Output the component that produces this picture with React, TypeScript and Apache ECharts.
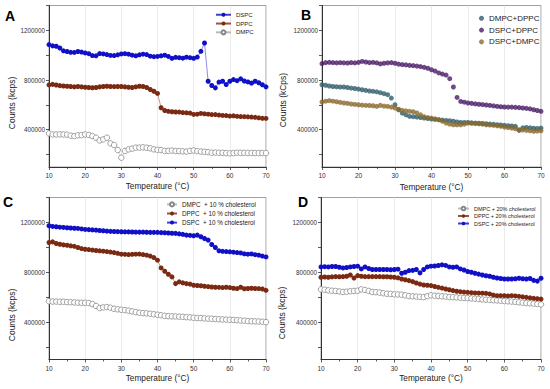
import React, { useEffect, useRef } from "react";
import * as echarts from "echarts";

const TEMPS = [10,11,12,13,14,15,16,17,18,19,20,21,22,23,24,25,26,27,28,29,30,31,32,33,34,35,36,37,38,39,40,41,42,43,44,45,46,47,48,49,50,51,52,53,54,55,56,57,58,59,60,61,62,63,64,65,66,67,68,69,70];
const X_TICKS = [10, 20, 30, 40, 50, 60, 70];
const Y_LABELS = [400000, 800000, 1200000];

// values in kcps (thousands)
const A_DSPC = [1085,1075,1072,1058,1035,1030,1023,1022,1030,1025,1018,1012,997,995,1013,1010,1005,998,997,1003,1010,1012,1008,1000,995,1003,1008,1005,992,988,990,995,1000,990,975,983,980,976,984,980,975,985,1031,1098,790,756,737,783,790,764,790,804,795,810,792,785,775,790,778,762,745];
const A_DPPC = [761,765,760,755,752,750,748,745,748,745,742,740,738,740,745,748,750,748,747,748,748,745,742,740,745,750,748,740,724,710,692,577,555,548,545,543,542,538,536,534,523,525,531,528,525,522,522,518,515,514,510,512,508,506,505,504,502,500,496,492,491];
const A_DMPC = [370,362,362,363,362,360,352,349,355,357,362,358,349,336,314,322,336,290,277,237,175,229,242,248,256,256,258,255,250,242,238,236,229,230,232,229,228,226,224,230,233,228,224,222,220,215,216,215,214,212,210,212,215,214,214,213,213,212,212,212,212];

const B_DMPC_DPPC = [762,758,752,748,746,744,744,740,735,732,727,722,717,712,709,705,698,690,682,655,601,560,533,520,507,505,502,498,494,490,486,483,480,478,475,473,468,462,459,459,458,455,453,452,450,448,445,443,440,438,435,432,430,427,395,415,418,415,412,410,413];
const B_DSPC_DPPC = [932,940,942,940,938,940,938,937,940,938,942,950,945,940,942,938,930,935,938,940,935,928,924,922,918,916,912,908,902,895,883,872,857,848,840,811,744,660,628,622,615,612,608,605,602,599,596,592,588,585,583,582,582,580,578,575,572,568,561,555,548];
const B_DSPC_DMPC = [623,630,634,630,625,620,615,612,607,604,601,598,596,595,593,588,596,590,588,582,575,565,556,552,548,545,535,520,505,498,494,488,481,468,454,445,440,440,440,445,454,452,450,448,445,440,438,436,432,428,421,418,413,408,400,398,395,392,387,390,392];

const C_DMPC10 = [567,565,565,563,563,561,560,558,556,555,555,553,545,530,513,518,521,515,507,503,499,496,492,486,480,475,472,470,467,463,459,455,450,448,446,446,444,442,440,438,435,433,432,430,428,427,425,423,421,420,419,417,415,413,411,408,407,406,405,403,400];
const C_DPPC10 = [1039,1044,1031,1025,1020,1017,1012,1008,999,990,985,982,978,975,972,969,966,962,958,952,945,944,942,944,945,946,942,937,930,918,897,835,808,784,763,709,723,715,709,705,696,694,692,688,685,682,680,679,677,680,677,672,669,680,668,670,672,670,669,666,655];
const C_DSPC10 = [1173,1168,1165,1162,1160,1157,1155,1153,1152,1148,1144,1142,1140,1138,1135,1133,1130,1128,1127,1126,1125,1124,1124,1123,1122,1122,1122,1121,1120,1120,1120,1118,1117,1115,1113,1112,1108,1104,1098,1096,1093,1098,1085,1071,1058,1023,999,972,968,966,964,961,958,955,948,945,947,941,937,930,923];

const D_DMPC20 = [663,660,655,652,650,646,642,644,648,650,652,663,658,650,642,640,637,632,628,626,623,622,620,615,609,607,605,603,601,608,615,612,610,607,605,601,600,598,596,594,593,590,588,585,582,580,578,576,574,572,569,567,565,562,559,556,553,551,548,545,542];
const D_DPPC20 = [760,762,760,763,765,764,765,768,778,754,773,768,765,765,765,765,765,764,764,762,760,755,746,740,733,725,714,705,698,696,693,686,679,673,666,660,653,648,644,641,639,636,634,633,632,631,626,617,612,612,612,610,612,610,607,603,599,595,591,588,585];
const D_DSPC20 = [843,845,843,846,846,840,835,838,843,846,849,827,843,830,822,822,822,822,822,820,822,825,792,800,813,815,822,795,822,843,849,850,854,860,855,843,840,843,827,818,806,800,792,785,778,772,768,760,754,750,746,746,746,748,752,748,746,750,735,729,752];

const FONT = "Arial, 'Liberation Sans', sans-serif";

type Panel = {
  letter: string;
  grid: { left: number; top: number; width: number; height: number };
  yTitle: string;
  scatter: boolean;
  series: { name: string; data: number[]; color: string; open?: boolean }[];
  legend: { left: number; top: number; fontSize: number; itemWidth: number; itemHeight: number; gap: number };
  letterPos: [number, number];
  yTitlePos: [number, number];
  xTitleY: number;
  yTitleSize: number;
};

const PANELS: Panel[] = [
  {
    letter: "A",
    grid: { left: 49, top: 5.5, width: 217, height: 161.5 },
    yTitle: "Counts (kcps)",
    scatter: false,
    series: [
      { name: "DSPC", data: A_DSPC, color: "#1010c8" },
      { name: "DPPC", data: A_DPPC, color: "#7a2a12" },
      { name: "DMPC", data: A_DMPC, color: "#888888", open: true },
    ],
    legend: { left: 215, top: 11.5, fontSize: 6, itemWidth: 15, itemHeight: 5, gap: 2.3 },
    letterPos: [10, 16],
    yTitlePos: [11.5, 103],
    xTitleY: 186,
    yTitleSize: 8.5,
  },
  {
    letter: "B",
    grid: { left: 322, top: 5.5, width: 219, height: 161.5 },
    yTitle: "Counts (kCps)",
    scatter: true,
    series: [
      { name: "DMPC+DPPC", data: B_DMPC_DPPC, color: "#2f5c6c" },
      { name: "DSPC+DPPC", data: B_DSPC_DPPC, color: "#4a1c68" },
      { name: "DSPC+DMPC", data: B_DSPC_DMPC, color: "#8a6a2c" },
    ],
    legend: { left: 479, top: 14, fontSize: 8, itemWidth: 5, itemHeight: 5, gap: 3.3 },
    letterPos: [306, 15],
    yTitlePos: [283, 100],
    xTitleY: 186.5,
    yTitleSize: 8.5,
  },
  {
    letter: "C",
    grid: { left: 49, top: 197.5, width: 217, height: 162 },
    yTitle: "Counts (kcps)",
    scatter: false,
    series: [
      { name: "DMPC  + 10 % cholesterol", data: C_DMPC10, color: "#888888", open: true },
      { name: "DPPC  + 10 % cholesterol", data: C_DPPC10, color: "#7a2a12" },
      { name: "DSPC  + 10 % cholesterol", data: C_DSPC10, color: "#1010c8" },
    ],
    legend: { left: 166, top: 201, fontSize: 6.3, itemWidth: 10, itemHeight: 5, gap: 2.3 },
    letterPos: [8, 202],
    yTitlePos: [11.5, 315],
    xTitleY: 378,
    yTitleSize: 8.5,
  },
  {
    letter: "D",
    grid: { left: 321, top: 197.5, width: 220, height: 162 },
    yTitle: "Counts (kcps)",
    scatter: false,
    series: [
      { name: "DMPC + 20% cholesterol", data: D_DMPC20, color: "#888888", open: true },
      { name: "DPPC + 20% cholesterol", data: D_DPPC20, color: "#7a2a12" },
      { name: "DSPC + 20% cholesterol", data: D_DSPC20, color: "#1010c8" },
    ],
    legend: { left: 457, top: 205.5, fontSize: 5.5, itemWidth: 11, itemHeight: 4.5, gap: 1.5 },
    letterPos: [303, 202],
    yTitlePos: [282, 313],
    xTitleY: 377.5,
    yTitleSize: 8.5,
  },
];

export default function App() {
  const ref = useRef<HTMLDivElement>(null);
  useEffect(() => {
    document.body.style.margin = "0";
    if (!ref.current) return;
    const chart = echarts.init(ref.current, undefined, { renderer: "svg" });

    const grids: any[] = [];
    const xAxes: any[] = [];
    const yAxes: any[] = [];
    const series: any[] = [];
    const legends: any[] = [];
    const graphics: any[] = [];

    PANELS.forEach((p, i) => {
      grids.push({ ...p.grid, show: true, borderColor: "#888", borderWidth: 0.8, backgroundColor: "#fff" });
      xAxes.push({
        type: "value",
        gridIndex: i,
        min: 10,
        max: 70,
        interval: 10,
        axisLine: { show: true, lineStyle: { color: "#333", width: 1 } },
        axisTick: { show: true, length: 3, inside: false, lineStyle: { color: "#333", width: 0.8 } },
        minorTick: { show: true, splitNumber: 2, length: 2, lineStyle: { color: "#333", width: 0.8 } },
        axisLabel: { fontSize: 6.5, color: "#333", margin: 5, fontFamily: FONT, customValues: X_TICKS },
        splitLine: { show: true, lineStyle: { color: "#e2e2e2", width: 0.7 } },
      });
      yAxes.push({
        type: "value",
        gridIndex: i,
        min: 100000,
        max: 1400000,
        axisLine: { show: true, lineStyle: { color: "#333", width: 1 } },
        axisTick: {
          show: true,
          length: 3,
          inside: false,
          lineStyle: { color: "#333", width: 0.8 },
          customValues: [200000, 400000, 600000, 800000, 1000000, 1200000, 1400000],
        },
        axisLabel: {
          fontSize: 6.3,
          color: "#333",
          margin: 4,
          fontFamily: FONT,
          customValues: Y_LABELS,
          formatter: (v: number) => String(v),
        },
        splitLine: { show: false },
      });
      p.series.forEach((s) => {
        const data = TEMPS.map((t, k) => [t, s.data[k] * 1000]);
        const base: any = {
          name: s.name,
          xAxisIndex: i,
          yAxisIndex: i,
          data,
          symbol: "circle",
          symbolSize: s.open ? 5.5 : 5,
          itemStyle: s.open
            ? { color: "#ffffff", borderColor: s.color, borderWidth: 0.8 }
            : { color: s.color },
        };
        if (p.scatter) {
          series.push({ ...base, type: "scatter" });
        } else {
          series.push({
            ...base,
            type: "line",
            showSymbol: true,
            lineStyle: { color: s.open ? "#aaaaaa" : s.color, width: 0.6, opacity: 0.8 },
          });
        }
      });
      legends.push({
        orient: "vertical",
        left: p.legend.left,
        top: p.legend.top,
        itemWidth: p.legend.itemWidth,
        itemHeight: p.legend.itemHeight,
        itemGap: p.legend.gap,
        padding: 0,
        selectedMode: false,
        data: p.series.map((s) => s.name),
        textStyle: { fontSize: p.legend.fontSize, color: "#222", fontFamily: FONT, padding: 0, lineHeight: p.legend.fontSize + 0.5 },
      });
      graphics.push({
        type: "text",
        x: p.letterPos[0],
        y: p.letterPos[1],
        style: { text: p.letter, fontSize: 14, fontWeight: "bold", fill: "#000", fontFamily: FONT, textAlign: "center", textVerticalAlign: "middle" },
      });
      graphics.push({
        type: "text",
        x: p.grid.left + p.grid.width / 2,
        y: p.xTitleY,
        style: { text: "Temperature (°C)", fontSize: 8.3, fill: "#222", fontFamily: FONT, textAlign: "center", textVerticalAlign: "middle" },
      });
      graphics.push({
        type: "text",
        x: p.yTitlePos[0],
        y: p.yTitlePos[1],
        rotation: Math.PI / 2,
        style: { text: p.yTitle, fontSize: p.yTitleSize, fill: "#222", fontFamily: FONT, textAlign: "center", textVerticalAlign: "middle" },
      });
    });

    chart.setOption({
      animation: false,
      backgroundColor: "#ffffff",
      grid: grids,
      xAxis: xAxes,
      yAxis: yAxes,
      series,
      legend: legends,
      graphic: graphics,
    });
    return () => chart.dispose();
  }, []);
  return <div ref={ref} style={{ position: "fixed", left: 0, top: 0, width: 550, height: 389 }} />;
}
